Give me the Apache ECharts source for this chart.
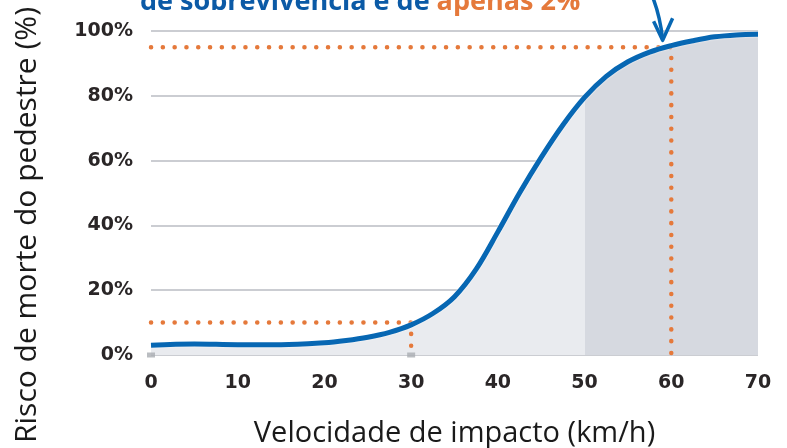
<!DOCTYPE html>
<html>
<head>
<meta charset="utf-8">
<script src="https://cdn.jsdelivr.net/npm/echarts@6/dist/echarts.min.js"></script>
<style>
  html, body { margin: 0; padding: 0; background: #fff; }
  #main { width: 787px; height: 448px; }
</style>
</head>
<body>
<div id="main"></div>
<script>
// velocidade (km/h) e risco de morte (%)
var speeds = [0, 5, 10, 15, 20, 22.5, 25, 27.5, 30, 32.5, 35, 37.5, 40, 42.5, 45, 47.5, 50, 52.5, 55, 57.5, 60, 62.5, 65, 67.5, 70];
var risk   = [3, 3.4, 3.2, 3.2, 3.8, 4.5, 5.5, 7, 9.3, 12.8, 18, 26.5, 38, 50, 61, 71, 79.5, 86, 90.5, 93.5, 95.5, 97, 98.2, 98.8, 99];
var xTicks = [0, 10, 20, 30, 40, 50, 60, 70];
var yTicks = [0, 20, 40, 60, 80, 100];
// linhas pontilhadas de referência
var guide30 = [[0, 10], [30, 10], [30, 0]];
var guide60 = [[0, 95], [60, 95], [60, 0]];
var zoneStart = 50;

var curve = speeds.map(function (s, i) { return [s, risk[i]]; });

var blue = '#0767b3';
var orange = '#e5793b';
var light = '#e9ebef';
var dark = '#d6d9e0';
var tickFont = '"DejaVu Sans", sans-serif';
var textFont = '"Open Sans", "Noto Sans", sans-serif';

var xMin = speeds[0], xMax = speeds[speeds.length - 1];
var cut = (zoneStart - xMin) / (xMax - xMin);

var myChart = echarts.init(document.getElementById('main'));

var option = {
  animation: false,
  grid: { left: 151, right: 29, top: 31, bottom: 93, outerBoundsMode: 'none' },
  xAxis: {
    type: 'value',
    min: xTicks[0],
    max: xTicks[xTicks.length - 1],
    interval: 10,
    name: 'Velocidade de impacto (km/h)',
    nameLocation: 'middle',
    nameGap: 64,
    nameTextStyle: { fontSize: 29, color: '#1a1a1a', fontFamily: textFont },
    axisLine: { show: false },
    axisTick: { show: false },
    splitLine: { show: false },
    axisLabel: { margin: 19, fontSize: 19, fontWeight: 'bold', color: '#2a2627', fontFamily: tickFont }
  },
  yAxis: {
    type: 'value',
    min: yTicks[0],
    max: yTicks[yTicks.length - 1],
    interval: 20,
    axisLine: { show: false },
    axisTick: { show: false },
    axisLabel: { margin: 18, fontSize: 19, fontWeight: 'bold', color: '#2a2627', fontFamily: tickFont, formatter: '{value}%' },
    splitLine: { lineStyle: { color: '#cbcdd2', width: 2 } }
  },
  series: [
    {
      name: 'area',
      type: 'line',
      smooth: 0.35,
      symbol: 'none',
      data: curve,
      lineStyle: { opacity: 0 },
      areaStyle: {
        opacity: 1,
        color: new echarts.graphic.LinearGradient(0, 0, 1, 0, [
          { offset: 0, color: light },
          { offset: cut, color: light },
          { offset: cut, color: dark },
          { offset: 1, color: dark }
        ])
      },
      z: 1
    },
    {
      name: 'guia30',
      type: 'line',
      symbol: 'none',
      data: guide30,
      lineStyle: { color: orange, width: 4.5, type: [0.1, 11.7], cap: 'round' },
      z: 3
    },
    {
      name: 'guia60',
      type: 'line',
      symbol: 'none',
      data: guide60,
      lineStyle: { color: orange, width: 4.5, type: [0.1, 11.7], cap: 'round' },
      z: 3
    },
    {
      name: 'risco',
      type: 'line',
      smooth: 0.35,
      symbol: 'none',
      data: curve,
      lineStyle: { color: blue, width: 5, shadowColor: '#ffffff', shadowBlur: 2 },
      z: 5
    },
    {
      name: 'marcas',
      type: 'scatter',
      symbol: 'rect',
      symbolSize: [8, 5],
      data: [[0, 0], [30, 0]],
      itemStyle: { color: '#a9acb2' },
      z: 4
    }
  ]
};

myChart.setOption(option);

// anotações: título cortado, seta e nome do eixo y
var tip = myChart.convertToPixel({ gridIndex: 0 }, [59, 96.5]);
myChart.setOption({
  graphic: [
    {
      type: 'text',
      x: 140,
      y: 2,
      style: {
        text: '{b|de sobrevivência é de }{o|apenas 2%}',
        verticalAlign: 'middle',
        rich: {
          b: { fontSize: 27, fontWeight: 'bold', fill: '#0b5aa6', fontFamily: textFont },
          o: { fontSize: 27, fontWeight: 'bold', fill: orange, fontFamily: textFont }
        }
      }
    },
    {
      type: 'bezierCurve',
      shape: { x1: tip[0] - 12, y1: tip[1] - 50, cpx1: tip[0] - 3, cpy1: tip[1] - 30, x2: tip[0], y2: tip[1] - 3 },
      style: { stroke: blue, lineWidth: 3.5, fill: null },
      z: 10
    },
    {
      type: 'polyline',
      shape: { points: [[tip[0] - 9, tip[1] - 21], [tip[0], tip[1] - 2], [tip[0] + 10, tip[1] - 24]] },
      style: { stroke: blue, lineWidth: 3.5, fill: null, lineJoin: 'round' },
      z: 10
    },
    {
      type: 'text',
      x: 27,
      y: 225,
      rotation: Math.PI / 2,
      style: {
        text: 'Risco de morte do pedestre (%)',
        fontSize: 30,
        fill: '#1a1a1a',
        fontFamily: textFont,
        align: 'center',
        verticalAlign: 'middle'
      }
    }
  ]
});

window.addEventListener('resize', function () {
  myChart.resize();
});
</script>
</body>
</html>
